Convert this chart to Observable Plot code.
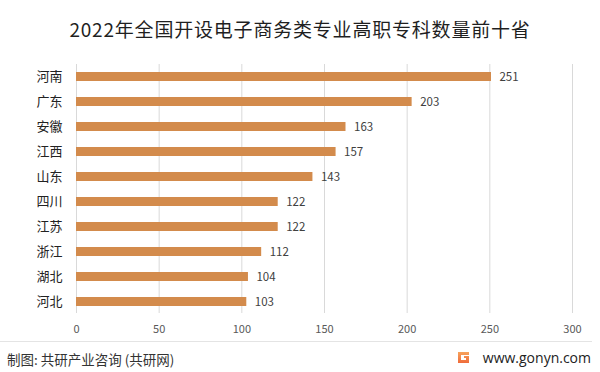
<!DOCTYPE html>
<html>
<head>
<meta charset="utf-8">
<script src="https://cdn.jsdelivr.net/npm/d3@7"></script>
<script src="https://cdn.jsdelivr.net/npm/@observablehq/plot@0.6"></script>
<style>
  html, body { margin: 0; padding: 0; background: #fff; }
  #wrap { position: relative; width: 600px; height: 372px; overflow: hidden; font-family: "Noto Sans CJK SC", "Noto Sans", sans-serif; }
  #title { position: absolute; left: 0; top: 15px; width: 600px; text-align: center; font-size: 19px; letter-spacing: 0.8px; color: #1f1f1f; line-height: 28px; }
  #chart { position: absolute; left: 0; top: 52px; }
  #sep { position: absolute; left: 0; top: 341px; width: 592px; height: 1px; background: #e4e4e4; }
  #src { position: absolute; left: 7px; top: 348px; font-size: 13.5px; color: #333; line-height: 22px; }
  #site { position: absolute; right: 9px; top: 347px; font-size: 14px; color: #222; line-height: 22px; font-family: "Open Sans", "Noto Sans", sans-serif; }
  #logo { position: absolute; left: 458px; top: 352px; width: 11px; height: 11px; }
</style>
</head>
<body>
<div id="wrap">
  <div id="title">2022年全国开设电子商务类专业高职专科数量前十省</div>
  <div id="chart"></div>
  <div id="sep"></div>
  <div id="src">制图: 共研产业咨询 (共研网)</div>
  <svg id="logo" viewBox="0 0 11 11"><defs><linearGradient id="lg" x1="0" y1="0" x2="0" y2="1"><stop offset="0" stop-color="#f7a35c"/><stop offset="1" stop-color="#ef6b3a"/></linearGradient></defs><path d="M0 0H11V3H3V8H8V6H6V4H11V11H0Z" fill="url(#lg)"/></svg>
  <div id="site">www.gonyn.com</div>
</div>
<script>
const provinces = ["河南", "广东", "安徽", "江西", "山东", "四川", "江苏", "浙江", "湖北", "河北"];
const counts = [251, 203, 163, 157, 143, 122, 122, 112, 104, 103];
const xTicks = [0, 50, 100, 150, 200, 250, 300];

const data = provinces.map((p, i) => ({province: p, count: counts[i]}));

const chart = Plot.plot({
  width: 600,
  height: 290,
  marginLeft: 76,
  marginRight: 28,
  marginTop: 12,
  marginBottom: 29,
  style: {fontFamily: "Noto Sans CJK SC, Noto Sans, sans-serif", background: "transparent"},
  x: {domain: [0, 300], ticks: xTicks, label: null},
  y: {domain: provinces, paddingInner: 0.64, paddingOuter: 0.3, label: null},
  marks: [
    Plot.gridX(xTicks, {stroke: "#d9d9d9", strokeOpacity: 1, strokeWidth: 1}),
    Plot.axisX(xTicks, {tickSize: 0, tickPadding: 12, fontSize: 11, fill: "#595959", label: null}),
    Plot.axisY({tickSize: 0, tickPadding: 14, fontSize: 13, fill: "#222"}),
    Plot.barX(data, {x: "count", y: "province", fill: "#d38b4c"}),
    Plot.text(data, {x: "count", y: "province", text: d => String(d.count), textAnchor: "start", dx: 8, fontSize: 11.5, fill: "#404040"})
  ]
});
document.getElementById("chart").appendChild(chart);
</script>
</body>
</html>
